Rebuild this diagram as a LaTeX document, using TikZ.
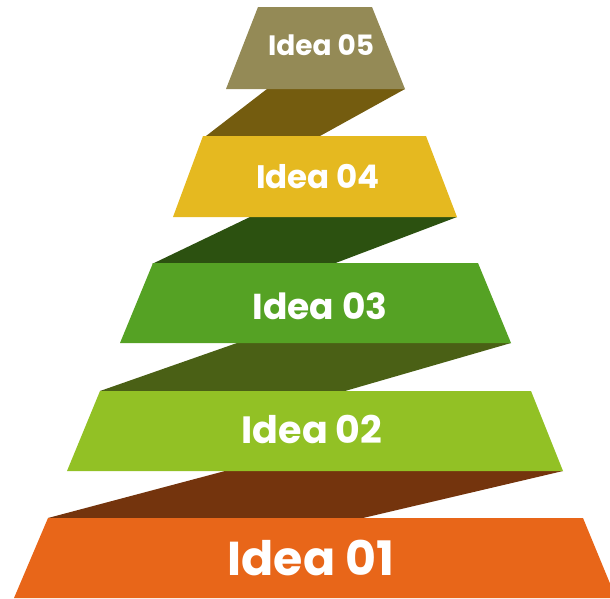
\documentclass[tikz,border=0pt]{standalone}
\usepackage{fontspec}
\setmainfont{Poppins}
\usetikzlibrary{positioning}
\definecolor{tierFive}{HTML}{948A56}
\definecolor{bandFive}{HTML}{745C0F}
\definecolor{tierFour}{HTML}{E5B920}
\definecolor{bandFour}{HTML}{2C5110}
\definecolor{tierThree}{HTML}{55A224}
\definecolor{bandThree}{HTML}{4A6015}
\definecolor{tierTwo}{HTML}{92C125}
\definecolor{bandTwo}{HTML}{74340D}
\definecolor{tierOne}{HTML}{E86619}

\begin{document}
\begin{tikzpicture}[x=1pt,y=-1pt,
  ideatext/.style={text=white,inner sep=0pt,font=\bfseries\fontsize{#1}{#1}\selectfont}]
\clip (0,0) rectangle (610,598);
% connecting bands
\fill[bandFive] (267,89) -- (405,89) -- (320,136) -- (206,136) -- cycle;
\fill[bandFour] (250,217) -- (457,217) -- (333,264) -- (152,264) -- cycle;
\fill[bandThree] (237,343) -- (511,343) -- (345,391) -- (100,391) -- cycle;
\fill[bandTwo] (225,471) -- (563,471) -- (363,518) -- (48,518) -- cycle;
% tiers
\fill[tierFive] (258,7) -- (372,7) -- (405,89) -- (226,89) -- cycle;
\fill[tierFour] (203,136) -- (426,136) -- (457,217) -- (173,217) -- cycle;
\fill[tierThree] (153,263) -- (478,263) -- (511,343) -- (120,343) -- cycle;
\fill[tierTwo] (100,391) -- (531,391) -- (563,471) -- (67,471) -- cycle;
\fill[tierOne] (48,518) -- (583,518) -- (616,598) -- (14,598) -- cycle;
% labels
\node[ideatext=28] (idea05) at (321,45) {Idea 05};
\node[ideatext=32.5] (idea04) at (318,177) {Idea 04};
\node[ideatext=36] (idea03) at (320,306) {Idea 03};
\node[ideatext=38] (idea02) at (312,429) {Idea 02};
\node[ideatext=47.5] (idea01) at (311,558) {Idea 01};
\end{tikzpicture}
\end{document}
